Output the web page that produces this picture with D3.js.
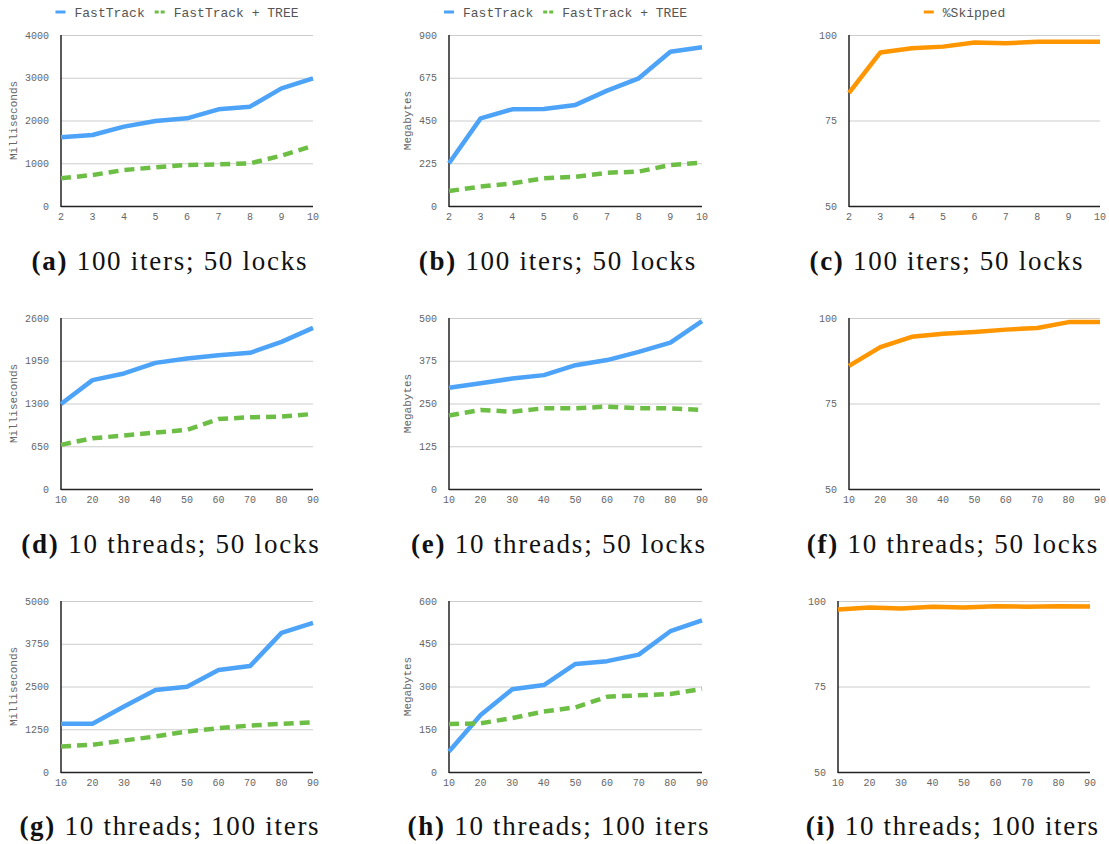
<!DOCTYPE html>
<html>
<head>
<meta charset="utf-8">
<script src="https://cdn.jsdelivr.net/npm/d3@7"></script>
<style>
  body { margin: 0; background: #fff; }
  svg { display: block; }
</style>
</head>
<body>
<div id="chart"></div>
<script>
// x categories
const threads = [2, 3, 4, 5, 6, 7, 8, 9, 10]
const iters = [10, 20, 30, 40, 50, 60, 70, 80, 90]

// (a) 100 iters; 50 locks - time
const timeA_ft = [1606, 1661, 1856, 1988, 2051, 2261, 2324, 2752, 2986]
const timeA_tree = [647, 725, 842, 904, 959, 975, 998, 1177, 1411]
// (b) memory
const memB_ft = [225, 461, 509, 511, 532, 607, 672, 812, 835]
const memB_tree = [79, 102, 119, 146, 154, 175, 181, 216, 228]
// (c) skipped
const skipC = [83.1, 94.9, 96.1, 96.6, 97.8, 97.6, 98.0, 98.0, 98.0]

// (d) 10 threads; 50 locks
const timeD_ft = [1292, 1656, 1757, 1918, 1984, 2035, 2070, 2237, 2449]
const timeD_tree = [671, 772, 813, 858, 899, 1065, 1090, 1101, 1141]
const memE_ft = [296, 309, 323, 333, 362, 377, 401, 428, 491]
const memE_tree = [215, 231, 226, 236, 236, 241, 236, 236, 231]
const skipF = [86.0, 91.5, 94.5, 95.4, 95.9, 96.6, 97.1, 98.8, 98.8]

// (g) 10 threads; 100 iters
const timeG_ft = [1408, 1408, 1913, 2398, 2495, 2981, 3097, 4068, 4359]
const timeG_tree = [748, 796, 922, 1039, 1184, 1282, 1359, 1408, 1456]
const memH_ft = [72, 200, 290, 305, 379, 389, 412, 494, 532]
const memH_tree = [168, 171, 189, 212, 227, 264, 269, 274, 291]
const skipI = [97.5, 98.1, 97.8, 98.3, 98.1, 98.5, 98.3, 98.5, 98.4]

const yTicksTime = [[0, 1000, 2000, 3000, 4000], [0, 650, 1300, 1950, 2600], [0, 1250, 2500, 3750, 5000]]
const yTicksMem = [[0, 225, 450, 675, 900], [0, 125, 250, 375, 500], [0, 150, 300, 450, 600]]
const yTicksSkip = [50, 75, 100]

const captionTag = ['a', 'b', 'c', 'd', 'e', 'f', 'g', 'h', 'i']
const captionText = ['100 iters; 50 locks', '100 iters; 50 locks', '100 iters; 50 locks',
  '10 threads; 50 locks', '10 threads; 50 locks', '10 threads; 50 locks',
  '10 threads; 100 iters', '10 threads; 100 iters', '10 threads; 100 iters']

const blue = '#4da3f8', green = '#6dbe45', orange = '#ff9600'
const mono = '"Liberation Mono", "DejaVu Sans Mono", monospace'

const svg = d3.select('#chart').append('svg').attr('width', 1109).attr('height', 844)

// layout of each panel
const rowTop = [35, 318, 601]
const plotH = 171
const capBase = [270, 553, 835]
const capCenter = [[169, 557, 946], [170, 558, 952], [169, 558, 952]]

const panels = [
  { r: 0, c: 0, x: threads, ticks: yTicksTime[0], title: 'Milliseconds', series: [timeA_ft, timeA_tree] },
  { r: 0, c: 1, x: threads, ticks: yTicksMem[0], title: 'Megabytes', series: [memB_ft, memB_tree] },
  { r: 0, c: 2, x: threads, ticks: yTicksSkip, series: [skipC] },
  { r: 1, c: 0, x: iters, ticks: yTicksTime[1], title: 'Milliseconds', series: [timeD_ft, timeD_tree] },
  { r: 1, c: 1, x: iters, ticks: yTicksMem[1], title: 'Megabytes', series: [memE_ft, memE_tree] },
  { r: 1, c: 2, x: iters, ticks: yTicksSkip, series: [skipF] },
  { r: 2, c: 0, x: iters, ticks: yTicksTime[2], title: 'Milliseconds', series: [timeG_ft, timeG_tree] },
  { r: 2, c: 1, x: iters, ticks: yTicksMem[2], title: 'Megabytes', series: [memH_ft, memH_tree] },
  { r: 2, c: 2, x: iters, ticks: yTicksSkip, series: [skipI] }
]

const colLeft = [61, 449, 849]
const colRight = [313, 702, 1100]

panels.forEach((p, i) => {
  let left = colLeft[p.c], right = colRight[p.c]
  if (i == 8) { left = 838; right = 1090 }
  const top = rowTop[p.r], bottom = top + plotH

  const x = d3.scalePoint().domain(p.x).range([left, right])
  const y = d3.scaleLinear().domain(d3.extent(p.ticks)).range([bottom, top])

  const g = svg.append('g')

  // gridlines
  g.selectAll('.grid')
    .data(p.ticks)
    .join('line')
    .attr('x1', left).attr('x2', right)
    .attr('y1', d => y(d) + 0.5).attr('y2', d => y(d) + 0.5)
    .attr('stroke', '#cccccc')

  // y tick labels
  g.selectAll('.ytick')
    .data(p.ticks)
    .join('text')
    .attr('x', left - 12)
    .attr('y', d => y(d))
    .attr('dy', '0.35em')
    .attr('text-anchor', 'end')
    .style('font-family', mono)
    .style('font-size', '10px')
    .style('fill', '#666')
    .text(d => d)

  // x tick labels
  g.selectAll('.xtick')
    .data(p.x)
    .join('text')
    .attr('x', d => x(d))
    .attr('y', bottom + 14)
    .attr('text-anchor', 'middle')
    .style('font-family', mono)
    .style('font-size', '10px')
    .style('fill', '#666')
    .text(d => d)

  // axes lines
  g.append('line').attr('x1', left).attr('x2', left).attr('y1', top).attr('y2', bottom + 1)
    .attr('stroke', '#222').attr('stroke-width', 1.5)
  g.append('line').attr('x1', left).attr('x2', right).attr('y1', bottom + 0.5).attr('y2', bottom + 0.5)
    .attr('stroke', '#222').attr('stroke-width', 1.5)

  // y title
  if (p.title) {
    const tx = p.c == 0 ? left - 48 : left - 42
    g.append('text')
      .attr('transform', `translate(${tx},${(top + bottom) / 2}) rotate(-90)`)
      .attr('dy', '0.35em')
      .attr('text-anchor', 'middle')
      .style('font-family', mono)
      .style('font-size', '11px')
      .style('fill', '#666')
      .text(p.title)
  }

  // lines
  const line = d3.line().x((d, j) => x(p.x[j])).y(d => y(d))
  p.series.forEach((s, k) => {
    const col = p.series.length == 1 ? orange : (k == 0 ? blue : green)
    g.append('path')
      .attr('d', line(s))
      .attr('fill', 'none')
      .attr('stroke', col)
      .attr('stroke-width', 4.5)
      .attr('stroke-linejoin', 'round')
      .attr('stroke-dasharray', k == 1 ? '10,6' : null)
  })

  // legend (top row only)
  if (p.r == 0) {
    const names = p.series.length == 1 ? ['%Skipped'] : ['FastTrack', 'FastTrack + TREE']
    const cols = p.series.length == 1 ? [orange] : [blue, green]
    const lg = g.append('g')
    let cx = 0
    names.forEach((n, k) => {
      lg.append('line').attr('x1', cx).attr('x2', cx + 10).attr('y1', 12).attr('y2', 12)
        .attr('stroke', cols[k]).attr('stroke-width', 3)
        .attr('stroke-dasharray', k == 1 ? '4,2' : null)
      const t = lg.append('text').attr('x', cx + 19).attr('y', 12).attr('dy', '0.35em')
        .style('font-family', mono).style('font-size', '13px').style('fill', '#555')
        .text(n)
      cx += 19 + t.node().getComputedTextLength() + 10
    })
    const w = cx - 10
    const mid = (left + right) / 2 - 10
    lg.attr('transform', `translate(${mid - w / 2},0)`)
  }

  // caption, stretched a bit since Computer Modern runs wider than Times
  const cap = g.append('text')
    .attr('x', capCenter[p.r][p.c])
    .attr('y', capBase[p.r])
    .attr('text-anchor', 'middle')
    .style('font-family', '"Liberation Serif", "DejaVu Serif", serif')
    .style('font-size', '27px')
    .style('fill', '#111')
  cap.append('tspan').style('font-weight', 'bold').text(`(${captionTag[i]})`)
  cap.append('tspan').text(' ' + captionText[i])
  const natural = cap.node().getComputedTextLength()
  cap.attr('textLength', natural * 1.16).attr('lengthAdjust', 'spacing')
})
</script>
</body>
</html>
